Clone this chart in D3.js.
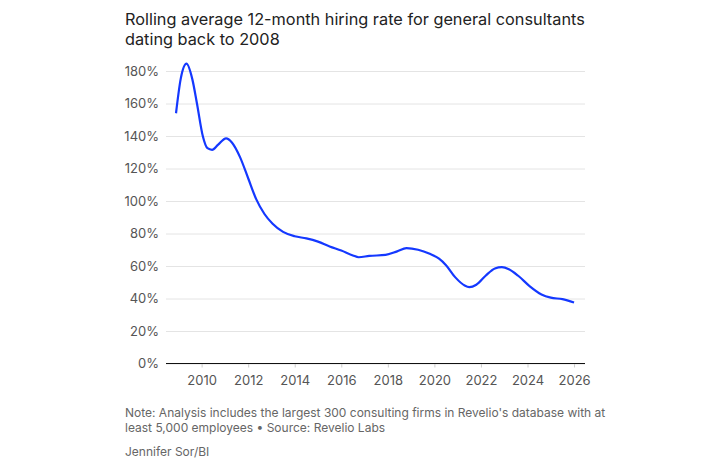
<!DOCTYPE html>
<html>
<head>
<meta charset="utf-8">
<script src="https://cdn.jsdelivr.net/npm/d3@7"></script>
<style>
  body { margin: 0; background: #fff; }
  text { font-family: Inter, "Noto Sans", sans-serif; }
</style>
</head>
<body>
<script>
var w = 724;
var h = 464;

// rolling 12-month hiring rate (%)
var years = [2008.9, 2009.1, 2009.35, 2009.6, 2009.8, 2010.05, 2010.25, 2010.45, 2010.7, 2011.05,
  2011.3, 2011.65, 2012.0, 2012.35, 2012.7, 2013.05, 2013.5, 2014.0, 2014.5, 2015.0,
  2015.5, 2016.0, 2016.5, 2016.75, 2017.2, 2017.9, 2018.4, 2018.8, 2019.3, 2019.8,
  2020.2, 2020.5, 2020.9, 2021.3, 2021.5, 2021.8, 2022.2, 2022.6, 2022.9, 2023.2,
  2023.6, 2024.1, 2024.6, 2025.0, 2025.5, 2026.0];
var rates = [154, 175, 184.5, 175, 160, 140, 132.5, 131.5, 134.5, 138.5,
  136, 127, 114, 101, 92, 86, 81, 78.3, 77, 75,
  72, 69.5, 66.5, 65.4, 66.2, 66.8, 69, 71, 70, 67.5,
  64.5, 60.5, 53, 48, 47, 48.5, 54, 58.5, 59.3, 58,
  54, 47.5, 42.5, 40.5, 39.6, 37.5];
var xTicks = [2010, 2012, 2014, 2016, 2018, 2020, 2022, 2024, 2026];
var yTicks = [0, 20, 40, 60, 80, 100, 120, 140, 160, 180];

var titleLines = ["Rolling average 12-month hiring rate for general consultants", "dating back to 2008"];
var noteLines = ["Note: Analysis includes the largest 300 consulting firms in Revelio's database with at",
  "least 5,000 employees \u2022 Source: Revelio Labs"];
var credit = "Jennifer Sor/BI";

var data = years.map(function (y, i) { return { year: y, rate: rates[i] }; });

var x = d3.scaleLinear().domain([2008.47, 2026.47]).range([166, 585]);
var y = d3.scaleLinear().domain([0, 180]).range([363.5, 71]);

var svg = d3.select("body").append("svg").attr("width", w).attr("height", h);

// title
svg.append("g").selectAll("text")
  .data(titleLines)
  .enter()
  .append("text")
  .attr("x", 125)
  .attr("y", function (d, i) { return 25 + i * 20; })
  .style("font-size", "16.3px")
  .style("fill", "#222")
  .text(function (d) { return d; });

// y axis + grid
var yAxis = svg.append("g")
  .attr("transform", "translate(166,0)")
  .call(d3.axisLeft(y).tickValues(yTicks).tickSize(-419).tickFormat(function (d) { return d + "%"; }));
yAxis.select(".domain").remove();
yAxis.selectAll(".tick line").style("stroke", "#e4e4e4");
yAxis.selectAll(".tick text")
  .attr("x", -7)
  .style("font-size", "13px")
  .style("fill", "#555")
  .style("font-family", "Inter, sans-serif");

// x axis
var xAxis = svg.append("g")
  .attr("transform", "translate(0,363.5)")
  .call(d3.axisBottom(x).tickValues(xTicks).tickSize(4).tickPadding(8).tickFormat(d3.format("d")));
xAxis.select(".domain").remove();
xAxis.selectAll(".tick line").style("stroke", "#ccc");
xAxis.selectAll(".tick text")
  .style("font-size", "13px")
  .style("fill", "#555")
  .style("font-family", "Inter, sans-serif");

svg.append("line")
  .attr("x1", 166).attr("x2", 585)
  .attr("y1", y(0)).attr("y2", y(0))
  .style("stroke", "#111")
  .style("stroke-width", 1);

// the line
var line = d3.line()
  .x(function (d) { return x(d.year); })
  .y(function (d) { return y(d.rate); })
  .curve(d3.curveMonotoneX);

svg.append("path")
  .datum(data)
  .attr("d", line)
  .style("fill", "none")
  .style("stroke", "#1438ff")
  .style("stroke-width", 2.2);

// footer
svg.append("g").selectAll("text")
  .data(noteLines)
  .enter()
  .append("text")
  .attr("x", 125)
  .attr("y", function (d, i) { return 417 + i * 15; })
  .style("font-size", "12px")
  .style("fill", "#666")
  .text(function (d) { return d; });

svg.append("text")
  .attr("x", 125)
  .attr("y", 456)
  .style("font-size", "12px")
  .style("fill", "#666")
  .text(credit);
</script>
</body>
</html>
